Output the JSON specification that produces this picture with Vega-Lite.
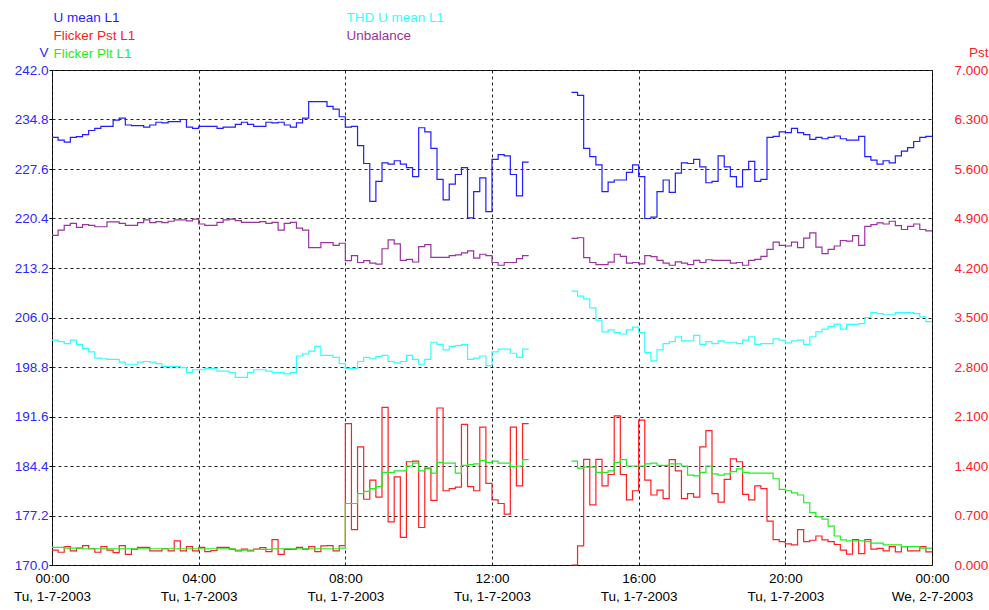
{
  "$schema": "https://vega.github.io/schema/vega-lite/v6.json",
  "width": 880,
  "height": 495,
  "autosize": {"type": "none"},
  "padding": {"left": 52, "top": 70, "right": 57, "bottom": 45},
  "background": "white",
  "config": {
    "font": "Liberation Sans",
    "view": {"stroke": "#000000", "strokeWidth": 1},
    "axis": {"gridDash": [3, 3], "gridColor": "#222222", "gridOpacity": 1, "gridWidth": 1, "domain": false, "labelFontSize": 13.5, "labelFont": "Liberation Sans", "titleFont": "Liberation Sans"}
  },
  "datasets": {
    "volt": [
      {"s":"U mean L1","g":"a","t":"2003-07-01T00:00Z","v":232.2},
      {"s":"U mean L1","g":"a","t":"2003-07-01T00:10Z","v":231.8},
      {"s":"U mean L1","g":"a","t":"2003-07-01T00:20Z","v":231.5},
      {"s":"U mean L1","g":"a","t":"2003-07-01T00:30Z","v":232.2},
      {"s":"U mean L1","g":"a","t":"2003-07-01T00:40Z","v":232.3},
      {"s":"U mean L1","g":"a","t":"2003-07-01T00:50Z","v":232.6},
      {"s":"U mean L1","g":"a","t":"2003-07-01T01:00Z","v":233.2},
      {"s":"U mean L1","g":"a","t":"2003-07-01T01:10Z","v":233.5},
      {"s":"U mean L1","g":"a","t":"2003-07-01T01:20Z","v":233.8},
      {"s":"U mean L1","g":"a","t":"2003-07-01T01:40Z","v":234.7},
      {"s":"U mean L1","g":"a","t":"2003-07-01T01:50Z","v":235.0},
      {"s":"U mean L1","g":"a","t":"2003-07-01T02:00Z","v":234.0},
      {"s":"U mean L1","g":"a","t":"2003-07-01T02:10Z","v":233.9},
      {"s":"U mean L1","g":"a","t":"2003-07-01T02:30Z","v":233.7},
      {"s":"U mean L1","g":"a","t":"2003-07-01T02:40Z","v":234.0},
      {"s":"U mean L1","g":"a","t":"2003-07-01T02:50Z","v":234.4},
      {"s":"U mean L1","g":"a","t":"2003-07-01T03:00Z","v":234.3},
      {"s":"U mean L1","g":"a","t":"2003-07-01T03:10Z","v":234.5},
      {"s":"U mean L1","g":"a","t":"2003-07-01T03:30Z","v":234.8},
      {"s":"U mean L1","g":"a","t":"2003-07-01T03:40Z","v":233.7},
      {"s":"U mean L1","g":"a","t":"2003-07-01T03:50Z","v":233.5},
      {"s":"U mean L1","g":"a","t":"2003-07-01T04:00Z","v":233.8},
      {"s":"U mean L1","g":"a","t":"2003-07-01T04:30Z","v":233.5},
      {"s":"U mean L1","g":"a","t":"2003-07-01T04:40Z","v":233.7},
      {"s":"U mean L1","g":"a","t":"2003-07-01T05:00Z","v":234.1},
      {"s":"U mean L1","g":"a","t":"2003-07-01T05:10Z","v":234.4},
      {"s":"U mean L1","g":"a","t":"2003-07-01T05:20Z","v":234.1},
      {"s":"U mean L1","g":"a","t":"2003-07-01T05:30Z","v":233.8},
      {"s":"U mean L1","g":"a","t":"2003-07-01T05:50Z","v":234.4},
      {"s":"U mean L1","g":"a","t":"2003-07-01T06:00Z","v":234.3},
      {"s":"U mean L1","g":"a","t":"2003-07-01T06:10Z","v":234.4},
      {"s":"U mean L1","g":"a","t":"2003-07-01T06:20Z","v":234.0},
      {"s":"U mean L1","g":"a","t":"2003-07-01T06:30Z","v":233.7},
      {"s":"U mean L1","g":"a","t":"2003-07-01T06:40Z","v":234.3},
      {"s":"U mean L1","g":"a","t":"2003-07-01T06:50Z","v":235.0},
      {"s":"U mean L1","g":"a","t":"2003-07-01T07:00Z","v":237.4},
      {"s":"U mean L1","g":"a","t":"2003-07-01T07:30Z","v":236.7},
      {"s":"U mean L1","g":"a","t":"2003-07-01T07:40Z","v":236.3},
      {"s":"U mean L1","g":"a","t":"2003-07-01T07:50Z","v":235.2},
      {"s":"U mean L1","g":"a","t":"2003-07-01T08:00Z","v":233.7},
      {"s":"U mean L1","g":"a","t":"2003-07-01T08:10Z","v":233.8},
      {"s":"U mean L1","g":"a","t":"2003-07-01T08:20Z","v":231.0},
      {"s":"U mean L1","g":"a","t":"2003-07-01T08:30Z","v":228.4},
      {"s":"U mean L1","g":"a","t":"2003-07-01T08:40Z","v":222.9},
      {"s":"U mean L1","g":"a","t":"2003-07-01T08:50Z","v":225.8},
      {"s":"U mean L1","g":"a","t":"2003-07-01T09:00Z","v":228.5},
      {"s":"U mean L1","g":"a","t":"2003-07-01T09:10Z","v":228.3},
      {"s":"U mean L1","g":"a","t":"2003-07-01T09:20Z","v":228.8},
      {"s":"U mean L1","g":"a","t":"2003-07-01T09:30Z","v":228.3},
      {"s":"U mean L1","g":"a","t":"2003-07-01T09:40Z","v":227.8},
      {"s":"U mean L1","g":"a","t":"2003-07-01T09:50Z","v":226.5},
      {"s":"U mean L1","g":"a","t":"2003-07-01T10:00Z","v":233.6},
      {"s":"U mean L1","g":"a","t":"2003-07-01T10:10Z","v":233.0},
      {"s":"U mean L1","g":"a","t":"2003-07-01T10:20Z","v":230.6},
      {"s":"U mean L1","g":"a","t":"2003-07-01T10:30Z","v":226.1},
      {"s":"U mean L1","g":"a","t":"2003-07-01T10:40Z","v":223.1},
      {"s":"U mean L1","g":"a","t":"2003-07-01T10:50Z","v":225.4},
      {"s":"U mean L1","g":"a","t":"2003-07-01T11:00Z","v":226.8},
      {"s":"U mean L1","g":"a","t":"2003-07-01T11:10Z","v":227.8},
      {"s":"U mean L1","g":"a","t":"2003-07-01T11:20Z","v":220.5},
      {"s":"U mean L1","g":"a","t":"2003-07-01T11:30Z","v":224.3},
      {"s":"U mean L1","g":"a","t":"2003-07-01T11:40Z","v":226.3},
      {"s":"U mean L1","g":"a","t":"2003-07-01T11:50Z","v":221.4},
      {"s":"U mean L1","g":"a","t":"2003-07-01T12:00Z","v":229.0},
      {"s":"U mean L1","g":"a","t":"2003-07-01T12:10Z","v":229.7},
      {"s":"U mean L1","g":"a","t":"2003-07-01T12:20Z","v":229.5},
      {"s":"U mean L1","g":"a","t":"2003-07-01T12:30Z","v":226.8},
      {"s":"U mean L1","g":"a","t":"2003-07-01T12:40Z","v":223.7},
      {"s":"U mean L1","g":"a","t":"2003-07-01T12:50Z","v":228.6},
      {"s":"U mean L1","g":"a","t":"2003-07-01T13:00Z","v":228.6},
      {"s":"U mean L1","g":"b","t":"2003-07-01T14:10Z","v":238.75},
      {"s":"U mean L1","g":"b","t":"2003-07-01T14:20Z","v":238.3},
      {"s":"U mean L1","g":"b","t":"2003-07-01T14:30Z","v":230.6},
      {"s":"U mean L1","g":"b","t":"2003-07-01T14:40Z","v":229.4},
      {"s":"U mean L1","g":"b","t":"2003-07-01T14:50Z","v":228.2},
      {"s":"U mean L1","g":"b","t":"2003-07-01T15:00Z","v":224.3},
      {"s":"U mean L1","g":"b","t":"2003-07-01T15:10Z","v":225.7},
      {"s":"U mean L1","g":"b","t":"2003-07-01T15:20Z","v":226.0},
      {"s":"U mean L1","g":"b","t":"2003-07-01T15:40Z","v":227.1},
      {"s":"U mean L1","g":"b","t":"2003-07-01T15:50Z","v":228.2},
      {"s":"U mean L1","g":"b","t":"2003-07-01T16:00Z","v":226.5},
      {"s":"U mean L1","g":"b","t":"2003-07-01T16:10Z","v":220.4},
      {"s":"U mean L1","g":"b","t":"2003-07-01T16:20Z","v":220.6},
      {"s":"U mean L1","g":"b","t":"2003-07-01T16:30Z","v":224.3},
      {"s":"U mean L1","g":"b","t":"2003-07-01T16:40Z","v":226.0},
      {"s":"U mean L1","g":"b","t":"2003-07-01T16:50Z","v":224.2},
      {"s":"U mean L1","g":"b","t":"2003-07-01T17:00Z","v":227.0},
      {"s":"U mean L1","g":"b","t":"2003-07-01T17:10Z","v":228.5},
      {"s":"U mean L1","g":"b","t":"2003-07-01T17:20Z","v":228.4},
      {"s":"U mean L1","g":"b","t":"2003-07-01T17:30Z","v":229.0},
      {"s":"U mean L1","g":"b","t":"2003-07-01T17:40Z","v":227.9},
      {"s":"U mean L1","g":"b","t":"2003-07-01T17:50Z","v":225.6},
      {"s":"U mean L1","g":"b","t":"2003-07-01T18:00Z","v":225.8},
      {"s":"U mean L1","g":"b","t":"2003-07-01T18:10Z","v":229.5},
      {"s":"U mean L1","g":"b","t":"2003-07-01T18:20Z","v":227.9},
      {"s":"U mean L1","g":"b","t":"2003-07-01T18:30Z","v":226.5},
      {"s":"U mean L1","g":"b","t":"2003-07-01T18:40Z","v":225.0},
      {"s":"U mean L1","g":"b","t":"2003-07-01T18:50Z","v":227.5},
      {"s":"U mean L1","g":"b","t":"2003-07-01T19:00Z","v":228.7},
      {"s":"U mean L1","g":"b","t":"2003-07-01T19:10Z","v":225.8},
      {"s":"U mean L1","g":"b","t":"2003-07-01T19:20Z","v":226.1},
      {"s":"U mean L1","g":"b","t":"2003-07-01T19:30Z","v":232.2},
      {"s":"U mean L1","g":"b","t":"2003-07-01T19:40Z","v":232.35},
      {"s":"U mean L1","g":"b","t":"2003-07-01T19:50Z","v":233.0},
      {"s":"U mean L1","g":"b","t":"2003-07-01T20:00Z","v":232.9},
      {"s":"U mean L1","g":"b","t":"2003-07-01T20:10Z","v":233.5},
      {"s":"U mean L1","g":"b","t":"2003-07-01T20:20Z","v":232.9},
      {"s":"U mean L1","g":"b","t":"2003-07-01T20:30Z","v":232.6},
      {"s":"U mean L1","g":"b","t":"2003-07-01T20:40Z","v":231.9},
      {"s":"U mean L1","g":"b","t":"2003-07-01T20:50Z","v":232.2},
      {"s":"U mean L1","g":"b","t":"2003-07-01T21:00Z","v":232.0},
      {"s":"U mean L1","g":"b","t":"2003-07-01T21:10Z","v":232.2},
      {"s":"U mean L1","g":"b","t":"2003-07-01T21:20Z","v":232.4},
      {"s":"U mean L1","g":"b","t":"2003-07-01T21:30Z","v":232.0},
      {"s":"U mean L1","g":"b","t":"2003-07-01T21:40Z","v":231.8},
      {"s":"U mean L1","g":"b","t":"2003-07-01T22:00Z","v":232.35},
      {"s":"U mean L1","g":"b","t":"2003-07-01T22:10Z","v":229.4},
      {"s":"U mean L1","g":"b","t":"2003-07-01T22:20Z","v":228.9},
      {"s":"U mean L1","g":"b","t":"2003-07-01T22:30Z","v":228.3},
      {"s":"U mean L1","g":"b","t":"2003-07-01T22:40Z","v":228.8},
      {"s":"U mean L1","g":"b","t":"2003-07-01T22:50Z","v":228.5},
      {"s":"U mean L1","g":"b","t":"2003-07-01T23:00Z","v":229.5},
      {"s":"U mean L1","g":"b","t":"2003-07-01T23:10Z","v":230.2},
      {"s":"U mean L1","g":"b","t":"2003-07-01T23:20Z","v":230.7},
      {"s":"U mean L1","g":"b","t":"2003-07-01T23:30Z","v":231.6},
      {"s":"U mean L1","g":"b","t":"2003-07-01T23:40Z","v":232.2},
      {"s":"U mean L1","g":"b","t":"2003-07-01T23:50Z","v":232.35},
      {"s":"U mean L1","g":"b","t":"2003-07-02T00:00Z","v":232.35},

      {"s":"THD U mean L1","g":"a","t":"2003-07-01T00:00Z","v":202.7},
      {"s":"THD U mean L1","g":"a","t":"2003-07-01T00:10Z","v":202.5},
      {"s":"THD U mean L1","g":"a","t":"2003-07-01T00:20Z","v":202.2},
      {"s":"THD U mean L1","g":"a","t":"2003-07-01T00:30Z","v":202.7},
      {"s":"THD U mean L1","g":"a","t":"2003-07-01T00:40Z","v":202.05},
      {"s":"THD U mean L1","g":"a","t":"2003-07-01T00:50Z","v":201.5},
      {"s":"THD U mean L1","g":"a","t":"2003-07-01T01:00Z","v":201.0},
      {"s":"THD U mean L1","g":"a","t":"2003-07-01T01:10Z","v":200.1},
      {"s":"THD U mean L1","g":"a","t":"2003-07-01T01:20Z","v":200.0},
      {"s":"THD U mean L1","g":"a","t":"2003-07-01T01:30Z","v":199.9},
      {"s":"THD U mean L1","g":"a","t":"2003-07-01T01:50Z","v":199.5},
      {"s":"THD U mean L1","g":"a","t":"2003-07-01T02:00Z","v":199.2},
      {"s":"THD U mean L1","g":"a","t":"2003-07-01T02:20Z","v":199.5},
      {"s":"THD U mean L1","g":"a","t":"2003-07-01T02:30Z","v":199.6},
      {"s":"THD U mean L1","g":"a","t":"2003-07-01T02:40Z","v":199.5},
      {"s":"THD U mean L1","g":"a","t":"2003-07-01T02:50Z","v":199.3},
      {"s":"THD U mean L1","g":"a","t":"2003-07-01T03:00Z","v":198.9},
      {"s":"THD U mean L1","g":"a","t":"2003-07-01T03:30Z","v":198.7},
      {"s":"THD U mean L1","g":"a","t":"2003-07-01T03:40Z","v":198.0},
      {"s":"THD U mean L1","g":"a","t":"2003-07-01T03:50Z","v":198.4},
      {"s":"THD U mean L1","g":"a","t":"2003-07-01T04:10Z","v":198.6},
      {"s":"THD U mean L1","g":"a","t":"2003-07-01T04:30Z","v":198.2},
      {"s":"THD U mean L1","g":"a","t":"2003-07-01T04:50Z","v":198.0},
      {"s":"THD U mean L1","g":"a","t":"2003-07-01T05:00Z","v":197.3},
      {"s":"THD U mean L1","g":"a","t":"2003-07-01T05:20Z","v":198.0},
      {"s":"THD U mean L1","g":"a","t":"2003-07-01T05:30Z","v":198.4},
      {"s":"THD U mean L1","g":"a","t":"2003-07-01T05:50Z","v":198.2},
      {"s":"THD U mean L1","g":"a","t":"2003-07-01T06:00Z","v":198.0},
      {"s":"THD U mean L1","g":"a","t":"2003-07-01T06:20Z","v":197.8},
      {"s":"THD U mean L1","g":"a","t":"2003-07-01T06:30Z","v":198.0},
      {"s":"THD U mean L1","g":"a","t":"2003-07-01T06:40Z","v":200.4},
      {"s":"THD U mean L1","g":"a","t":"2003-07-01T06:50Z","v":200.7},
      {"s":"THD U mean L1","g":"a","t":"2003-07-01T07:00Z","v":201.1},
      {"s":"THD U mean L1","g":"a","t":"2003-07-01T07:10Z","v":201.8},
      {"s":"THD U mean L1","g":"a","t":"2003-07-01T07:20Z","v":200.5},
      {"s":"THD U mean L1","g":"a","t":"2003-07-01T07:40Z","v":200.2},
      {"s":"THD U mean L1","g":"a","t":"2003-07-01T07:50Z","v":199.3},
      {"s":"THD U mean L1","g":"a","t":"2003-07-01T08:00Z","v":198.6},
      {"s":"THD U mean L1","g":"a","t":"2003-07-01T08:20Z","v":199.6},
      {"s":"THD U mean L1","g":"a","t":"2003-07-01T08:30Z","v":200.2},
      {"s":"THD U mean L1","g":"a","t":"2003-07-01T08:40Z","v":200.0},
      {"s":"THD U mean L1","g":"a","t":"2003-07-01T08:50Z","v":200.3},
      {"s":"THD U mean L1","g":"a","t":"2003-07-01T09:00Z","v":200.5},
      {"s":"THD U mean L1","g":"a","t":"2003-07-01T09:10Z","v":199.6},
      {"s":"THD U mean L1","g":"a","t":"2003-07-01T09:20Z","v":199.4},
      {"s":"THD U mean L1","g":"a","t":"2003-07-01T09:30Z","v":199.6},
      {"s":"THD U mean L1","g":"a","t":"2003-07-01T09:40Z","v":200.5},
      {"s":"THD U mean L1","g":"a","t":"2003-07-01T09:50Z","v":199.9},
      {"s":"THD U mean L1","g":"a","t":"2003-07-01T10:00Z","v":199.2},
      {"s":"THD U mean L1","g":"a","t":"2003-07-01T10:10Z","v":199.9},
      {"s":"THD U mean L1","g":"a","t":"2003-07-01T10:20Z","v":202.4},
      {"s":"THD U mean L1","g":"a","t":"2003-07-01T10:30Z","v":202.1},
      {"s":"THD U mean L1","g":"a","t":"2003-07-01T10:40Z","v":201.3},
      {"s":"THD U mean L1","g":"a","t":"2003-07-01T10:50Z","v":201.8},
      {"s":"THD U mean L1","g":"a","t":"2003-07-01T11:00Z","v":201.9},
      {"s":"THD U mean L1","g":"a","t":"2003-07-01T11:10Z","v":202.05},
      {"s":"THD U mean L1","g":"a","t":"2003-07-01T11:20Z","v":199.9},
      {"s":"THD U mean L1","g":"a","t":"2003-07-01T11:30Z","v":200.1},
      {"s":"THD U mean L1","g":"a","t":"2003-07-01T11:40Z","v":200.4},
      {"s":"THD U mean L1","g":"a","t":"2003-07-01T11:50Z","v":199.0},
      {"s":"THD U mean L1","g":"a","t":"2003-07-01T12:00Z","v":201.0},
      {"s":"THD U mean L1","g":"a","t":"2003-07-01T12:10Z","v":201.4},
      {"s":"THD U mean L1","g":"a","t":"2003-07-01T12:30Z","v":200.8},
      {"s":"THD U mean L1","g":"a","t":"2003-07-01T12:40Z","v":200.2},
      {"s":"THD U mean L1","g":"a","t":"2003-07-01T12:50Z","v":201.4},
      {"s":"THD U mean L1","g":"a","t":"2003-07-01T13:00Z","v":201.4},
      {"s":"THD U mean L1","g":"b","t":"2003-07-01T14:10Z","v":209.85},
      {"s":"THD U mean L1","g":"b","t":"2003-07-01T14:20Z","v":209.1},
      {"s":"THD U mean L1","g":"b","t":"2003-07-01T14:30Z","v":208.7},
      {"s":"THD U mean L1","g":"b","t":"2003-07-01T14:40Z","v":207.4},
      {"s":"THD U mean L1","g":"b","t":"2003-07-01T14:50Z","v":205.6},
      {"s":"THD U mean L1","g":"b","t":"2003-07-01T15:00Z","v":203.9},
      {"s":"THD U mean L1","g":"b","t":"2003-07-01T15:10Z","v":204.2},
      {"s":"THD U mean L1","g":"b","t":"2003-07-01T15:20Z","v":203.8},
      {"s":"THD U mean L1","g":"b","t":"2003-07-01T15:30Z","v":203.6},
      {"s":"THD U mean L1","g":"b","t":"2003-07-01T15:40Z","v":204.2},
      {"s":"THD U mean L1","g":"b","t":"2003-07-01T15:50Z","v":204.6},
      {"s":"THD U mean L1","g":"b","t":"2003-07-01T16:00Z","v":203.8},
      {"s":"THD U mean L1","g":"b","t":"2003-07-01T16:10Z","v":200.9},
      {"s":"THD U mean L1","g":"b","t":"2003-07-01T16:20Z","v":199.7},
      {"s":"THD U mean L1","g":"b","t":"2003-07-01T16:30Z","v":201.3},
      {"s":"THD U mean L1","g":"b","t":"2003-07-01T16:40Z","v":202.2},
      {"s":"THD U mean L1","g":"b","t":"2003-07-01T16:50Z","v":202.5},
      {"s":"THD U mean L1","g":"b","t":"2003-07-01T17:00Z","v":203.2},
      {"s":"THD U mean L1","g":"b","t":"2003-07-01T17:10Z","v":202.6},
      {"s":"THD U mean L1","g":"b","t":"2003-07-01T17:30Z","v":203.4},
      {"s":"THD U mean L1","g":"b","t":"2003-07-01T17:40Z","v":202.1},
      {"s":"THD U mean L1","g":"b","t":"2003-07-01T17:50Z","v":202.5},
      {"s":"THD U mean L1","g":"b","t":"2003-07-01T18:00Z","v":202.2},
      {"s":"THD U mean L1","g":"b","t":"2003-07-01T18:10Z","v":202.6},
      {"s":"THD U mean L1","g":"b","t":"2003-07-01T18:20Z","v":202.4},
      {"s":"THD U mean L1","g":"b","t":"2003-07-01T18:40Z","v":202.2},
      {"s":"THD U mean L1","g":"b","t":"2003-07-01T18:50Z","v":202.7},
      {"s":"THD U mean L1","g":"b","t":"2003-07-01T19:00Z","v":203.2},
      {"s":"THD U mean L1","g":"b","t":"2003-07-01T19:10Z","v":202.1},
      {"s":"THD U mean L1","g":"b","t":"2003-07-01T19:20Z","v":202.2},
      {"s":"THD U mean L1","g":"b","t":"2003-07-01T19:40Z","v":202.9},
      {"s":"THD U mean L1","g":"b","t":"2003-07-01T19:50Z","v":202.7},
      {"s":"THD U mean L1","g":"b","t":"2003-07-01T20:00Z","v":202.3},
      {"s":"THD U mean L1","g":"b","t":"2003-07-01T20:10Z","v":202.6},
      {"s":"THD U mean L1","g":"b","t":"2003-07-01T20:20Z","v":202.7},
      {"s":"THD U mean L1","g":"b","t":"2003-07-01T20:30Z","v":202.1},
      {"s":"THD U mean L1","g":"b","t":"2003-07-01T20:40Z","v":203.2},
      {"s":"THD U mean L1","g":"b","t":"2003-07-01T20:50Z","v":203.9},
      {"s":"THD U mean L1","g":"b","t":"2003-07-01T21:00Z","v":204.3},
      {"s":"THD U mean L1","g":"b","t":"2003-07-01T21:10Z","v":204.7},
      {"s":"THD U mean L1","g":"b","t":"2003-07-01T21:20Z","v":205.05},
      {"s":"THD U mean L1","g":"b","t":"2003-07-01T21:30Z","v":204.3},
      {"s":"THD U mean L1","g":"b","t":"2003-07-01T21:40Z","v":205.0},
      {"s":"THD U mean L1","g":"b","t":"2003-07-01T22:00Z","v":205.1},
      {"s":"THD U mean L1","g":"b","t":"2003-07-01T22:10Z","v":206.0},
      {"s":"THD U mean L1","g":"b","t":"2003-07-01T22:20Z","v":206.7},
      {"s":"THD U mean L1","g":"b","t":"2003-07-01T22:30Z","v":206.55},
      {"s":"THD U mean L1","g":"b","t":"2003-07-01T22:40Z","v":206.4},
      {"s":"THD U mean L1","g":"b","t":"2003-07-01T23:00Z","v":206.7},
      {"s":"THD U mean L1","g":"b","t":"2003-07-01T23:30Z","v":206.55},
      {"s":"THD U mean L1","g":"b","t":"2003-07-01T23:40Z","v":206.1},
      {"s":"THD U mean L1","g":"b","t":"2003-07-01T23:50Z","v":205.4},
      {"s":"THD U mean L1","g":"b","t":"2003-07-02T00:00Z","v":205.4},

      {"s":"Unbalance","g":"a","t":"2003-07-01T00:00Z","v":217.95},
      {"s":"Unbalance","g":"a","t":"2003-07-01T00:10Z","v":218.7},
      {"s":"Unbalance","g":"a","t":"2003-07-01T00:20Z","v":219.4},
      {"s":"Unbalance","g":"a","t":"2003-07-01T00:30Z","v":219.7},
      {"s":"Unbalance","g":"a","t":"2003-07-01T00:40Z","v":219.1},
      {"s":"Unbalance","g":"a","t":"2003-07-01T00:50Z","v":219.5},
      {"s":"Unbalance","g":"a","t":"2003-07-01T01:00Z","v":219.4},
      {"s":"Unbalance","g":"a","t":"2003-07-01T01:10Z","v":219.2},
      {"s":"Unbalance","g":"a","t":"2003-07-01T01:30Z","v":219.9},
      {"s":"Unbalance","g":"a","t":"2003-07-01T01:50Z","v":219.7},
      {"s":"Unbalance","g":"a","t":"2003-07-01T02:00Z","v":219.4},
      {"s":"Unbalance","g":"a","t":"2003-07-01T02:20Z","v":219.8},
      {"s":"Unbalance","g":"a","t":"2003-07-01T02:30Z","v":220.2},
      {"s":"Unbalance","g":"a","t":"2003-07-01T02:40Z","v":219.8},
      {"s":"Unbalance","g":"a","t":"2003-07-01T02:50Z","v":219.95},
      {"s":"Unbalance","g":"a","t":"2003-07-01T03:00Z","v":219.8},
      {"s":"Unbalance","g":"a","t":"2003-07-01T03:10Z","v":220.0},
      {"s":"Unbalance","g":"a","t":"2003-07-01T03:20Z","v":220.2},
      {"s":"Unbalance","g":"a","t":"2003-07-01T03:40Z","v":220.05},
      {"s":"Unbalance","g":"a","t":"2003-07-01T03:50Z","v":220.3},
      {"s":"Unbalance","g":"a","t":"2003-07-01T04:00Z","v":219.6},
      {"s":"Unbalance","g":"a","t":"2003-07-01T04:10Z","v":219.4},
      {"s":"Unbalance","g":"a","t":"2003-07-01T04:30Z","v":219.85},
      {"s":"Unbalance","g":"a","t":"2003-07-01T04:40Z","v":220.2},
      {"s":"Unbalance","g":"a","t":"2003-07-01T04:50Z","v":220.3},
      {"s":"Unbalance","g":"a","t":"2003-07-01T05:00Z","v":220.1},
      {"s":"Unbalance","g":"a","t":"2003-07-01T05:10Z","v":219.85},
      {"s":"Unbalance","g":"a","t":"2003-07-01T05:40Z","v":219.95},
      {"s":"Unbalance","g":"a","t":"2003-07-01T05:50Z","v":219.7},
      {"s":"Unbalance","g":"a","t":"2003-07-01T06:00Z","v":219.85},
      {"s":"Unbalance","g":"a","t":"2003-07-01T06:10Z","v":218.7},
      {"s":"Unbalance","g":"a","t":"2003-07-01T06:20Z","v":219.7},
      {"s":"Unbalance","g":"a","t":"2003-07-01T06:30Z","v":219.85},
      {"s":"Unbalance","g":"a","t":"2003-07-01T06:40Z","v":219.0},
      {"s":"Unbalance","g":"a","t":"2003-07-01T06:50Z","v":218.7},
      {"s":"Unbalance","g":"a","t":"2003-07-01T07:00Z","v":216.15},
      {"s":"Unbalance","g":"a","t":"2003-07-01T07:20Z","v":216.9},
      {"s":"Unbalance","g":"a","t":"2003-07-01T07:40Z","v":216.5},
      {"s":"Unbalance","g":"a","t":"2003-07-01T07:50Z","v":216.8},
      {"s":"Unbalance","g":"a","t":"2003-07-01T08:00Z","v":214.27},
      {"s":"Unbalance","g":"a","t":"2003-07-01T08:10Z","v":215.0},
      {"s":"Unbalance","g":"a","t":"2003-07-01T08:20Z","v":214.0},
      {"s":"Unbalance","g":"a","t":"2003-07-01T08:30Z","v":214.27},
      {"s":"Unbalance","g":"a","t":"2003-07-01T08:40Z","v":213.9},
      {"s":"Unbalance","g":"a","t":"2003-07-01T08:50Z","v":213.75},
      {"s":"Unbalance","g":"a","t":"2003-07-01T09:00Z","v":216.0},
      {"s":"Unbalance","g":"a","t":"2003-07-01T09:10Z","v":217.3},
      {"s":"Unbalance","g":"a","t":"2003-07-01T09:20Z","v":216.7},
      {"s":"Unbalance","g":"a","t":"2003-07-01T09:30Z","v":214.3},
      {"s":"Unbalance","g":"a","t":"2003-07-01T09:40Z","v":214.45},
      {"s":"Unbalance","g":"a","t":"2003-07-01T09:50Z","v":214.07},
      {"s":"Unbalance","g":"a","t":"2003-07-01T10:00Z","v":216.3},
      {"s":"Unbalance","g":"a","t":"2003-07-01T10:10Z","v":216.6},
      {"s":"Unbalance","g":"a","t":"2003-07-01T10:20Z","v":214.75},
      {"s":"Unbalance","g":"a","t":"2003-07-01T10:50Z","v":215.0},
      {"s":"Unbalance","g":"a","t":"2003-07-01T11:00Z","v":215.1},
      {"s":"Unbalance","g":"a","t":"2003-07-01T11:10Z","v":215.4},
      {"s":"Unbalance","g":"a","t":"2003-07-01T11:20Z","v":215.7},
      {"s":"Unbalance","g":"a","t":"2003-07-01T11:30Z","v":214.65},
      {"s":"Unbalance","g":"a","t":"2003-07-01T11:40Z","v":215.2},
      {"s":"Unbalance","g":"a","t":"2003-07-01T11:50Z","v":215.0},
      {"s":"Unbalance","g":"a","t":"2003-07-01T12:00Z","v":214.0},
      {"s":"Unbalance","g":"a","t":"2003-07-01T12:10Z","v":213.6},
      {"s":"Unbalance","g":"a","t":"2003-07-01T12:20Z","v":214.0},
      {"s":"Unbalance","g":"a","t":"2003-07-01T12:40Z","v":214.55},
      {"s":"Unbalance","g":"a","t":"2003-07-01T12:50Z","v":215.0},
      {"s":"Unbalance","g":"a","t":"2003-07-01T13:00Z","v":215.0},
      {"s":"Unbalance","g":"b","t":"2003-07-01T14:10Z","v":217.5},
      {"s":"Unbalance","g":"b","t":"2003-07-01T14:20Z","v":217.6},
      {"s":"Unbalance","g":"b","t":"2003-07-01T14:30Z","v":214.7},
      {"s":"Unbalance","g":"b","t":"2003-07-01T14:40Z","v":214.0},
      {"s":"Unbalance","g":"b","t":"2003-07-01T14:50Z","v":213.7},
      {"s":"Unbalance","g":"b","t":"2003-07-01T15:10Z","v":214.05},
      {"s":"Unbalance","g":"b","t":"2003-07-01T15:20Z","v":215.2},
      {"s":"Unbalance","g":"b","t":"2003-07-01T15:30Z","v":214.9},
      {"s":"Unbalance","g":"b","t":"2003-07-01T15:40Z","v":213.9},
      {"s":"Unbalance","g":"b","t":"2003-07-01T15:50Z","v":214.0},
      {"s":"Unbalance","g":"b","t":"2003-07-01T16:00Z","v":213.8},
      {"s":"Unbalance","g":"b","t":"2003-07-01T16:10Z","v":215.0},
      {"s":"Unbalance","g":"b","t":"2003-07-01T16:20Z","v":214.85},
      {"s":"Unbalance","g":"b","t":"2003-07-01T16:30Z","v":214.3},
      {"s":"Unbalance","g":"b","t":"2003-07-01T16:40Z","v":213.9},
      {"s":"Unbalance","g":"b","t":"2003-07-01T16:50Z","v":213.6},
      {"s":"Unbalance","g":"b","t":"2003-07-01T17:00Z","v":214.1},
      {"s":"Unbalance","g":"b","t":"2003-07-01T17:10Z","v":213.9},
      {"s":"Unbalance","g":"b","t":"2003-07-01T17:20Z","v":213.7},
      {"s":"Unbalance","g":"b","t":"2003-07-01T17:30Z","v":214.3},
      {"s":"Unbalance","g":"b","t":"2003-07-01T17:40Z","v":214.0},
      {"s":"Unbalance","g":"b","t":"2003-07-01T17:50Z","v":214.4},
      {"s":"Unbalance","g":"b","t":"2003-07-01T18:00Z","v":214.3},
      {"s":"Unbalance","g":"b","t":"2003-07-01T18:30Z","v":213.9},
      {"s":"Unbalance","g":"b","t":"2003-07-01T18:40Z","v":214.0},
      {"s":"Unbalance","g":"b","t":"2003-07-01T18:50Z","v":213.6},
      {"s":"Unbalance","g":"b","t":"2003-07-01T19:00Z","v":214.3},
      {"s":"Unbalance","g":"b","t":"2003-07-01T19:10Z","v":214.45},
      {"s":"Unbalance","g":"b","t":"2003-07-01T19:20Z","v":214.9},
      {"s":"Unbalance","g":"b","t":"2003-07-01T19:30Z","v":215.9},
      {"s":"Unbalance","g":"b","t":"2003-07-01T19:40Z","v":216.95},
      {"s":"Unbalance","g":"b","t":"2003-07-01T19:50Z","v":216.5},
      {"s":"Unbalance","g":"b","t":"2003-07-01T20:00Z","v":216.4},
      {"s":"Unbalance","g":"b","t":"2003-07-01T20:10Z","v":216.95},
      {"s":"Unbalance","g":"b","t":"2003-07-01T20:20Z","v":216.15},
      {"s":"Unbalance","g":"b","t":"2003-07-01T20:30Z","v":217.55},
      {"s":"Unbalance","g":"b","t":"2003-07-01T20:40Z","v":218.3},
      {"s":"Unbalance","g":"b","t":"2003-07-01T20:50Z","v":216.25},
      {"s":"Unbalance","g":"b","t":"2003-07-01T21:00Z","v":215.3},
      {"s":"Unbalance","g":"b","t":"2003-07-01T21:10Z","v":215.9},
      {"s":"Unbalance","g":"b","t":"2003-07-01T21:20Z","v":216.4},
      {"s":"Unbalance","g":"b","t":"2003-07-01T21:30Z","v":217.2},
      {"s":"Unbalance","g":"b","t":"2003-07-01T21:40Z","v":217.1},
      {"s":"Unbalance","g":"b","t":"2003-07-01T21:50Z","v":217.9},
      {"s":"Unbalance","g":"b","t":"2003-07-01T22:00Z","v":216.5},
      {"s":"Unbalance","g":"b","t":"2003-07-01T22:10Z","v":219.26},
      {"s":"Unbalance","g":"b","t":"2003-07-01T22:20Z","v":219.5},
      {"s":"Unbalance","g":"b","t":"2003-07-01T22:30Z","v":219.75},
      {"s":"Unbalance","g":"b","t":"2003-07-01T22:40Z","v":219.6},
      {"s":"Unbalance","g":"b","t":"2003-07-01T22:50Z","v":220.0},
      {"s":"Unbalance","g":"b","t":"2003-07-01T23:00Z","v":219.35},
      {"s":"Unbalance","g":"b","t":"2003-07-01T23:10Z","v":218.8},
      {"s":"Unbalance","g":"b","t":"2003-07-01T23:20Z","v":219.26},
      {"s":"Unbalance","g":"b","t":"2003-07-01T23:30Z","v":219.6},
      {"s":"Unbalance","g":"b","t":"2003-07-01T23:40Z","v":218.8},
      {"s":"Unbalance","g":"b","t":"2003-07-01T23:50Z","v":218.6},
      {"s":"Unbalance","g":"b","t":"2003-07-02T00:00Z","v":218.6}
    ],
    "flicker": [
      {"s":"Flicker Pst L1","g":"a","t":"2003-07-01T00:00Z","v":0.21},
      {"s":"Flicker Pst L1","g":"a","t":"2003-07-01T00:10Z","v":0.18},
      {"s":"Flicker Pst L1","g":"a","t":"2003-07-01T00:20Z","v":0.26},
      {"s":"Flicker Pst L1","g":"a","t":"2003-07-01T00:30Z","v":0.20},
      {"s":"Flicker Pst L1","g":"a","t":"2003-07-01T00:40Z","v":0.24},
      {"s":"Flicker Pst L1","g":"a","t":"2003-07-01T00:50Z","v":0.275},
      {"s":"Flicker Pst L1","g":"a","t":"2003-07-01T01:00Z","v":0.23},
      {"s":"Flicker Pst L1","g":"a","t":"2003-07-01T01:10Z","v":0.18},
      {"s":"Flicker Pst L1","g":"a","t":"2003-07-01T01:20Z","v":0.26},
      {"s":"Flicker Pst L1","g":"a","t":"2003-07-01T01:30Z","v":0.21},
      {"s":"Flicker Pst L1","g":"a","t":"2003-07-01T01:40Z","v":0.175},
      {"s":"Flicker Pst L1","g":"a","t":"2003-07-01T01:50Z","v":0.275},
      {"s":"Flicker Pst L1","g":"a","t":"2003-07-01T02:00Z","v":0.15},
      {"s":"Flicker Pst L1","g":"a","t":"2003-07-01T02:10Z","v":0.225},
      {"s":"Flicker Pst L1","g":"a","t":"2003-07-01T02:20Z","v":0.25},
      {"s":"Flicker Pst L1","g":"a","t":"2003-07-01T02:40Z","v":0.20},
      {"s":"Flicker Pst L1","g":"a","t":"2003-07-01T03:00Z","v":0.23},
      {"s":"Flicker Pst L1","g":"a","t":"2003-07-01T03:10Z","v":0.20},
      {"s":"Flicker Pst L1","g":"a","t":"2003-07-01T03:20Z","v":0.34},
      {"s":"Flicker Pst L1","g":"a","t":"2003-07-01T03:30Z","v":0.20},
      {"s":"Flicker Pst L1","g":"a","t":"2003-07-01T03:40Z","v":0.26},
      {"s":"Flicker Pst L1","g":"a","t":"2003-07-01T03:50Z","v":0.20},
      {"s":"Flicker Pst L1","g":"a","t":"2003-07-01T04:00Z","v":0.25},
      {"s":"Flicker Pst L1","g":"a","t":"2003-07-01T04:10Z","v":0.19},
      {"s":"Flicker Pst L1","g":"a","t":"2003-07-01T04:20Z","v":0.205},
      {"s":"Flicker Pst L1","g":"a","t":"2003-07-01T04:30Z","v":0.25},
      {"s":"Flicker Pst L1","g":"a","t":"2003-07-01T04:50Z","v":0.225},
      {"s":"Flicker Pst L1","g":"a","t":"2003-07-01T05:00Z","v":0.20},
      {"s":"Flicker Pst L1","g":"a","t":"2003-07-01T05:10Z","v":0.225},
      {"s":"Flicker Pst L1","g":"a","t":"2003-07-01T05:20Z","v":0.20},
      {"s":"Flicker Pst L1","g":"a","t":"2003-07-01T05:30Z","v":0.225},
      {"s":"Flicker Pst L1","g":"a","t":"2003-07-01T05:40Z","v":0.245},
      {"s":"Flicker Pst L1","g":"a","t":"2003-07-01T05:50Z","v":0.19},
      {"s":"Flicker Pst L1","g":"a","t":"2003-07-01T06:00Z","v":0.36},
      {"s":"Flicker Pst L1","g":"a","t":"2003-07-01T06:10Z","v":0.15},
      {"s":"Flicker Pst L1","g":"a","t":"2003-07-01T06:20Z","v":0.22},
      {"s":"Flicker Pst L1","g":"a","t":"2003-07-01T06:30Z","v":0.225},
      {"s":"Flicker Pst L1","g":"a","t":"2003-07-01T06:40Z","v":0.25},
      {"s":"Flicker Pst L1","g":"a","t":"2003-07-01T06:50Z","v":0.225},
      {"s":"Flicker Pst L1","g":"a","t":"2003-07-01T07:00Z","v":0.26},
      {"s":"Flicker Pst L1","g":"a","t":"2003-07-01T07:10Z","v":0.19},
      {"s":"Flicker Pst L1","g":"a","t":"2003-07-01T07:20Z","v":0.27},
      {"s":"Flicker Pst L1","g":"a","t":"2003-07-01T07:30Z","v":0.275},
      {"s":"Flicker Pst L1","g":"a","t":"2003-07-01T07:40Z","v":0.20},
      {"s":"Flicker Pst L1","g":"a","t":"2003-07-01T07:50Z","v":0.275},
      {"s":"Flicker Pst L1","g":"a","t":"2003-07-01T08:00Z","v":2.0},
      {"s":"Flicker Pst L1","g":"a","t":"2003-07-01T08:10Z","v":0.50},
      {"s":"Flicker Pst L1","g":"a","t":"2003-07-01T08:20Z","v":1.67},
      {"s":"Flicker Pst L1","g":"a","t":"2003-07-01T08:30Z","v":0.93},
      {"s":"Flicker Pst L1","g":"a","t":"2003-07-01T08:40Z","v":1.20},
      {"s":"Flicker Pst L1","g":"a","t":"2003-07-01T08:50Z","v":0.96},
      {"s":"Flicker Pst L1","g":"a","t":"2003-07-01T09:00Z","v":2.23},
      {"s":"Flicker Pst L1","g":"a","t":"2003-07-01T09:10Z","v":0.61},
      {"s":"Flicker Pst L1","g":"a","t":"2003-07-01T09:20Z","v":1.245},
      {"s":"Flicker Pst L1","g":"a","t":"2003-07-01T09:30Z","v":0.39},
      {"s":"Flicker Pst L1","g":"a","t":"2003-07-01T09:40Z","v":1.46},
      {"s":"Flicker Pst L1","g":"a","t":"2003-07-01T09:50Z","v":1.47},
      {"s":"Flicker Pst L1","g":"a","t":"2003-07-01T10:00Z","v":0.53},
      {"s":"Flicker Pst L1","g":"a","t":"2003-07-01T10:10Z","v":1.37},
      {"s":"Flicker Pst L1","g":"a","t":"2003-07-01T10:20Z","v":0.915},
      {"s":"Flicker Pst L1","g":"a","t":"2003-07-01T10:30Z","v":2.22},
      {"s":"Flicker Pst L1","g":"a","t":"2003-07-01T10:40Z","v":1.05},
      {"s":"Flicker Pst L1","g":"a","t":"2003-07-01T10:50Z","v":1.08},
      {"s":"Flicker Pst L1","g":"a","t":"2003-07-01T11:00Z","v":1.10},
      {"s":"Flicker Pst L1","g":"a","t":"2003-07-01T11:10Z","v":1.99},
      {"s":"Flicker Pst L1","g":"a","t":"2003-07-01T11:20Z","v":1.107},
      {"s":"Flicker Pst L1","g":"a","t":"2003-07-01T11:30Z","v":1.05},
      {"s":"Flicker Pst L1","g":"a","t":"2003-07-01T11:40Z","v":1.95},
      {"s":"Flicker Pst L1","g":"a","t":"2003-07-01T11:50Z","v":1.155},
      {"s":"Flicker Pst L1","g":"a","t":"2003-07-01T12:00Z","v":0.92},
      {"s":"Flicker Pst L1","g":"a","t":"2003-07-01T12:10Z","v":0.87},
      {"s":"Flicker Pst L1","g":"a","t":"2003-07-01T12:20Z","v":0.72},
      {"s":"Flicker Pst L1","g":"a","t":"2003-07-01T12:30Z","v":1.95},
      {"s":"Flicker Pst L1","g":"a","t":"2003-07-01T12:40Z","v":1.12},
      {"s":"Flicker Pst L1","g":"a","t":"2003-07-01T12:50Z","v":2.0},
      {"s":"Flicker Pst L1","g":"a","t":"2003-07-01T13:00Z","v":2.0},
      {"s":"Flicker Pst L1","g":"b","t":"2003-07-01T14:10Z","v":0.0},
      {"s":"Flicker Pst L1","g":"b","t":"2003-07-01T14:20Z","v":0.27},
      {"s":"Flicker Pst L1","g":"b","t":"2003-07-01T14:30Z","v":1.495},
      {"s":"Flicker Pst L1","g":"b","t":"2003-07-01T14:40Z","v":0.85},
      {"s":"Flicker Pst L1","g":"b","t":"2003-07-01T14:50Z","v":1.495},
      {"s":"Flicker Pst L1","g":"b","t":"2003-07-01T15:00Z","v":1.12},
      {"s":"Flicker Pst L1","g":"b","t":"2003-07-01T15:10Z","v":1.28},
      {"s":"Flicker Pst L1","g":"b","t":"2003-07-01T15:20Z","v":2.11},
      {"s":"Flicker Pst L1","g":"b","t":"2003-07-01T15:30Z","v":1.28},
      {"s":"Flicker Pst L1","g":"b","t":"2003-07-01T15:40Z","v":0.92},
      {"s":"Flicker Pst L1","g":"b","t":"2003-07-01T15:50Z","v":1.05},
      {"s":"Flicker Pst L1","g":"b","t":"2003-07-01T16:00Z","v":2.05},
      {"s":"Flicker Pst L1","g":"b","t":"2003-07-01T16:10Z","v":1.20},
      {"s":"Flicker Pst L1","g":"b","t":"2003-07-01T16:20Z","v":0.99},
      {"s":"Flicker Pst L1","g":"b","t":"2003-07-01T16:30Z","v":1.06},
      {"s":"Flicker Pst L1","g":"b","t":"2003-07-01T16:40Z","v":0.94},
      {"s":"Flicker Pst L1","g":"b","t":"2003-07-01T16:50Z","v":1.49},
      {"s":"Flicker Pst L1","g":"b","t":"2003-07-01T17:00Z","v":1.33},
      {"s":"Flicker Pst L1","g":"b","t":"2003-07-01T17:10Z","v":0.94},
      {"s":"Flicker Pst L1","g":"b","t":"2003-07-01T17:20Z","v":1.01},
      {"s":"Flicker Pst L1","g":"b","t":"2003-07-01T17:30Z","v":0.96},
      {"s":"Flicker Pst L1","g":"b","t":"2003-07-01T17:40Z","v":1.67},
      {"s":"Flicker Pst L1","g":"b","t":"2003-07-01T17:50Z","v":1.90},
      {"s":"Flicker Pst L1","g":"b","t":"2003-07-01T18:00Z","v":1.01},
      {"s":"Flicker Pst L1","g":"b","t":"2003-07-01T18:10Z","v":0.89},
      {"s":"Flicker Pst L1","g":"b","t":"2003-07-01T18:20Z","v":1.21},
      {"s":"Flicker Pst L1","g":"b","t":"2003-07-01T18:30Z","v":1.50},
      {"s":"Flicker Pst L1","g":"b","t":"2003-07-01T18:40Z","v":1.46},
      {"s":"Flicker Pst L1","g":"b","t":"2003-07-01T18:50Z","v":1.00},
      {"s":"Flicker Pst L1","g":"b","t":"2003-07-01T19:00Z","v":0.92},
      {"s":"Flicker Pst L1","g":"b","t":"2003-07-01T19:10Z","v":1.12},
      {"s":"Flicker Pst L1","g":"b","t":"2003-07-01T19:20Z","v":1.08},
      {"s":"Flicker Pst L1","g":"b","t":"2003-07-01T19:30Z","v":0.62},
      {"s":"Flicker Pst L1","g":"b","t":"2003-07-01T19:40Z","v":0.36},
      {"s":"Flicker Pst L1","g":"b","t":"2003-07-01T19:50Z","v":0.33},
      {"s":"Flicker Pst L1","g":"b","t":"2003-07-01T20:00Z","v":0.30},
      {"s":"Flicker Pst L1","g":"b","t":"2003-07-01T20:10Z","v":0.285},
      {"s":"Flicker Pst L1","g":"b","t":"2003-07-01T20:20Z","v":0.50},
      {"s":"Flicker Pst L1","g":"b","t":"2003-07-01T20:30Z","v":0.33},
      {"s":"Flicker Pst L1","g":"b","t":"2003-07-01T20:40Z","v":0.35},
      {"s":"Flicker Pst L1","g":"b","t":"2003-07-01T20:50Z","v":0.41},
      {"s":"Flicker Pst L1","g":"b","t":"2003-07-01T21:00Z","v":0.355},
      {"s":"Flicker Pst L1","g":"b","t":"2003-07-01T21:10Z","v":0.33},
      {"s":"Flicker Pst L1","g":"b","t":"2003-07-01T21:20Z","v":0.29},
      {"s":"Flicker Pst L1","g":"b","t":"2003-07-01T21:30Z","v":0.21},
      {"s":"Flicker Pst L1","g":"b","t":"2003-07-01T21:40Z","v":0.155},
      {"s":"Flicker Pst L1","g":"b","t":"2003-07-01T21:50Z","v":0.36},
      {"s":"Flicker Pst L1","g":"b","t":"2003-07-01T22:00Z","v":0.16},
      {"s":"Flicker Pst L1","g":"b","t":"2003-07-01T22:10Z","v":0.36},
      {"s":"Flicker Pst L1","g":"b","t":"2003-07-01T22:20Z","v":0.225},
      {"s":"Flicker Pst L1","g":"b","t":"2003-07-01T22:30Z","v":0.235},
      {"s":"Flicker Pst L1","g":"b","t":"2003-07-01T22:40Z","v":0.20},
      {"s":"Flicker Pst L1","g":"b","t":"2003-07-01T22:50Z","v":0.26},
      {"s":"Flicker Pst L1","g":"b","t":"2003-07-01T23:00Z","v":0.185},
      {"s":"Flicker Pst L1","g":"b","t":"2003-07-01T23:10Z","v":0.26},
      {"s":"Flicker Pst L1","g":"b","t":"2003-07-01T23:20Z","v":0.20},
      {"s":"Flicker Pst L1","g":"b","t":"2003-07-01T23:40Z","v":0.26},
      {"s":"Flicker Pst L1","g":"b","t":"2003-07-01T23:50Z","v":0.185},
      {"s":"Flicker Pst L1","g":"b","t":"2003-07-02T00:00Z","v":0.185},

      {"s":"Flicker Plt L1","g":"a","t":"2003-07-01T00:00Z","v":0.25},
      {"s":"Flicker Plt L1","g":"a","t":"2003-07-01T00:20Z","v":0.24},
      {"s":"Flicker Plt L1","g":"a","t":"2003-07-01T00:50Z","v":0.23},
      {"s":"Flicker Plt L1","g":"a","t":"2003-07-01T05:00Z","v":0.21},
      {"s":"Flicker Plt L1","g":"a","t":"2003-07-01T05:30Z","v":0.22},
      {"s":"Flicker Plt L1","g":"a","t":"2003-07-01T06:00Z","v":0.23},
      {"s":"Flicker Plt L1","g":"a","t":"2003-07-01T07:50Z","v":0.24},
      {"s":"Flicker Plt L1","g":"a","t":"2003-07-01T08:00Z","v":0.87},
      {"s":"Flicker Plt L1","g":"a","t":"2003-07-01T08:20Z","v":1.01},
      {"s":"Flicker Plt L1","g":"a","t":"2003-07-01T08:30Z","v":1.04},
      {"s":"Flicker Plt L1","g":"a","t":"2003-07-01T08:40Z","v":1.08},
      {"s":"Flicker Plt L1","g":"a","t":"2003-07-01T08:50Z","v":1.11},
      {"s":"Flicker Plt L1","g":"a","t":"2003-07-01T09:00Z","v":1.31},
      {"s":"Flicker Plt L1","g":"a","t":"2003-07-01T09:20Z","v":1.33},
      {"s":"Flicker Plt L1","g":"a","t":"2003-07-01T09:40Z","v":1.40},
      {"s":"Flicker Plt L1","g":"a","t":"2003-07-01T09:50Z","v":1.44},
      {"s":"Flicker Plt L1","g":"a","t":"2003-07-01T10:00Z","v":1.33},
      {"s":"Flicker Plt L1","g":"a","t":"2003-07-01T10:10Z","v":1.36},
      {"s":"Flicker Plt L1","g":"a","t":"2003-07-01T10:20Z","v":1.30},
      {"s":"Flicker Plt L1","g":"a","t":"2003-07-01T10:30Z","v":1.45},
      {"s":"Flicker Plt L1","g":"a","t":"2003-07-01T10:40Z","v":1.44},
      {"s":"Flicker Plt L1","g":"a","t":"2003-07-01T11:00Z","v":1.30},
      {"s":"Flicker Plt L1","g":"a","t":"2003-07-01T11:10Z","v":1.41},
      {"s":"Flicker Plt L1","g":"a","t":"2003-07-01T11:20Z","v":1.42},
      {"s":"Flicker Plt L1","g":"a","t":"2003-07-01T11:30Z","v":1.43},
      {"s":"Flicker Plt L1","g":"a","t":"2003-07-01T11:40Z","v":1.48},
      {"s":"Flicker Plt L1","g":"a","t":"2003-07-01T11:50Z","v":1.45},
      {"s":"Flicker Plt L1","g":"a","t":"2003-07-01T12:00Z","v":1.47},
      {"s":"Flicker Plt L1","g":"a","t":"2003-07-01T12:10Z","v":1.44},
      {"s":"Flicker Plt L1","g":"a","t":"2003-07-01T12:30Z","v":1.39},
      {"s":"Flicker Plt L1","g":"a","t":"2003-07-01T12:40Z","v":1.40},
      {"s":"Flicker Plt L1","g":"a","t":"2003-07-01T12:50Z","v":1.49},
      {"s":"Flicker Plt L1","g":"a","t":"2003-07-01T13:00Z","v":1.49},
      {"s":"Flicker Plt L1","g":"b","t":"2003-07-01T14:10Z","v":1.47},
      {"s":"Flicker Plt L1","g":"b","t":"2003-07-01T14:20Z","v":1.37},
      {"s":"Flicker Plt L1","g":"b","t":"2003-07-01T14:30Z","v":1.385},
      {"s":"Flicker Plt L1","g":"b","t":"2003-07-01T14:50Z","v":1.31},
      {"s":"Flicker Plt L1","g":"b","t":"2003-07-01T15:10Z","v":1.33},
      {"s":"Flicker Plt L1","g":"b","t":"2003-07-01T15:20Z","v":1.45},
      {"s":"Flicker Plt L1","g":"b","t":"2003-07-01T15:30Z","v":1.49},
      {"s":"Flicker Plt L1","g":"b","t":"2003-07-01T15:40Z","v":1.40},
      {"s":"Flicker Plt L1","g":"b","t":"2003-07-01T16:10Z","v":1.43},
      {"s":"Flicker Plt L1","g":"b","t":"2003-07-01T16:20Z","v":1.44},
      {"s":"Flicker Plt L1","g":"b","t":"2003-07-01T16:30Z","v":1.41},
      {"s":"Flicker Plt L1","g":"b","t":"2003-07-01T16:50Z","v":1.43},
      {"s":"Flicker Plt L1","g":"b","t":"2003-07-01T17:10Z","v":1.40},
      {"s":"Flicker Plt L1","g":"b","t":"2003-07-01T17:20Z","v":1.27},
      {"s":"Flicker Plt L1","g":"b","t":"2003-07-01T17:30Z","v":1.26},
      {"s":"Flicker Plt L1","g":"b","t":"2003-07-01T17:40Z","v":1.31},
      {"s":"Flicker Plt L1","g":"b","t":"2003-07-01T17:50Z","v":1.40},
      {"s":"Flicker Plt L1","g":"b","t":"2003-07-01T18:00Z","v":1.29},
      {"s":"Flicker Plt L1","g":"b","t":"2003-07-01T18:10Z","v":1.27},
      {"s":"Flicker Plt L1","g":"b","t":"2003-07-01T18:20Z","v":1.29},
      {"s":"Flicker Plt L1","g":"b","t":"2003-07-01T18:30Z","v":1.32},
      {"s":"Flicker Plt L1","g":"b","t":"2003-07-01T18:40Z","v":1.36},
      {"s":"Flicker Plt L1","g":"b","t":"2003-07-01T18:50Z","v":1.31},
      {"s":"Flicker Plt L1","g":"b","t":"2003-07-01T19:00Z","v":1.30},
      {"s":"Flicker Plt L1","g":"b","t":"2003-07-01T19:40Z","v":1.22},
      {"s":"Flicker Plt L1","g":"b","t":"2003-07-01T19:50Z","v":1.07},
      {"s":"Flicker Plt L1","g":"b","t":"2003-07-01T20:00Z","v":1.05},
      {"s":"Flicker Plt L1","g":"b","t":"2003-07-01T20:10Z","v":1.02},
      {"s":"Flicker Plt L1","g":"b","t":"2003-07-01T20:20Z","v":0.99},
      {"s":"Flicker Plt L1","g":"b","t":"2003-07-01T20:30Z","v":0.88},
      {"s":"Flicker Plt L1","g":"b","t":"2003-07-01T20:40Z","v":0.74},
      {"s":"Flicker Plt L1","g":"b","t":"2003-07-01T20:50Z","v":0.68},
      {"s":"Flicker Plt L1","g":"b","t":"2003-07-01T21:00Z","v":0.65},
      {"s":"Flicker Plt L1","g":"b","t":"2003-07-01T21:10Z","v":0.55},
      {"s":"Flicker Plt L1","g":"b","t":"2003-07-01T21:20Z","v":0.41},
      {"s":"Flicker Plt L1","g":"b","t":"2003-07-01T21:30Z","v":0.355},
      {"s":"Flicker Plt L1","g":"b","t":"2003-07-01T21:40Z","v":0.34},
      {"s":"Flicker Plt L1","g":"b","t":"2003-07-01T22:10Z","v":0.33},
      {"s":"Flicker Plt L1","g":"b","t":"2003-07-01T22:20Z","v":0.31},
      {"s":"Flicker Plt L1","g":"b","t":"2003-07-01T22:40Z","v":0.285},
      {"s":"Flicker Plt L1","g":"b","t":"2003-07-01T23:10Z","v":0.26},
      {"s":"Flicker Plt L1","g":"b","t":"2003-07-01T23:40Z","v":0.24},
      {"s":"Flicker Plt L1","g":"b","t":"2003-07-02T00:00Z","v":0.24}
    ]
  },
  "layer": [
    {
      "data": {"name": "volt"},
      "mark": {"type": "line", "interpolate": "step-after", "strokeWidth": 1.2},
      "encoding": {
        "x": {
          "field": "t", "type": "temporal",
          "scale": {"type": "utc", "domain": [{"year": 2003, "month": 7, "date": 1, "hours": 0, "utc": true}, {"year": 2003, "month": 7, "date": 2, "hours": 0, "utc": true}]},
          "axis": {
            "title": null,
            "values": [
              {"year": 2003, "month": 7, "date": 1, "hours": 0, "utc": true},
              {"year": 2003, "month": 7, "date": 1, "hours": 4, "utc": true},
              {"year": 2003, "month": 7, "date": 1, "hours": 8, "utc": true},
              {"year": 2003, "month": 7, "date": 1, "hours": 12, "utc": true},
              {"year": 2003, "month": 7, "date": 1, "hours": 16, "utc": true},
              {"year": 2003, "month": 7, "date": 1, "hours": 20, "utc": true},
              {"year": 2003, "month": 7, "date": 2, "hours": 0, "utc": true}
            ],
            "labelExpr": "[utcFormat(datum.value, '%H:%M'), slice(utcFormat(datum.value, '%a'), 0, 2) + ', ' + utcFormat(datum.value, '%-d-%-m-%Y')]",
            "labelLineHeight": 18,
            "labelPadding": 6,
            "labelColor": "#000000",
            "labelOverlap": false,
            "labelBound": false,
            "labelFlush": false,
            "ticks": false,
            "grid": true
          }
        },
        "y": {
          "field": "v", "type": "quantitative",
          "scale": {"domain": [170, 242], "nice": false, "zero": false},
          "axis": {
            "orient": "left",
            "values": [170, 177.2, 184.4, 191.6, 198.8, 206, 213.2, 220.4, 227.6, 234.8, 242],
            "format": ".1f",
            "labelColor": "#2a2aff",
            "tickSize": 3,
            "tickColor": "#000000",
            "labelPadding": 1,
            "grid": true,
            "title": "V",
            "titleAngle": 0,
            "titleColor": "#2a2aff",
            "titleFontWeight": "normal",
            "titleFontSize": 13.5,
            "titleAlign": "right",
            "titleBaseline": "middle",
            "titleX": -4,
            "titleY": -18
          }
        },
        "color": {
          "field": "s", "type": "nominal",
          "scale": {
            "domain": ["U mean L1", "Flicker Pst L1", "Flicker Plt L1", "THD U mean L1", "Unbalance"],
            "range": ["#1e1eff", "#ff2020", "#22ee22", "#33ffff", "#9933a0"]
          },
          "legend": {
            "orient": "none",
            "legendX": -13,
            "legendY": -59,
            "columns": 2,
            "columnPadding": 196,
            "rowPadding": 3,
            "title": null,
            "symbolSize": 0,
            "symbolStrokeWidth": 0,
            "symbolOpacity": 0,
            "labelOffset": 1,
            "labelFontSize": 13.5,
            "labelFont": "Liberation Sans",
            "encode": {"labels": {"update": {"fill": {"signal": "scale('color', datum.value)"}}}}
          }
        },
        "detail": {"field": "g"}
      }
    },
    {
      "data": {"name": "flicker"},
      "mark": {"type": "line", "interpolate": "step-after", "strokeWidth": 1.2},
      "encoding": {
        "x": {"field": "t", "type": "temporal"},
        "y": {
          "field": "v", "type": "quantitative",
          "scale": {"domain": [0, 7], "nice": false, "zero": false},
          "axis": {
            "orient": "right",
            "values": [0, 0.7, 1.4, 2.1, 2.8, 3.5, 4.2, 4.9, 5.6, 6.3, 7],
            "format": ".3f",
            "labelColor": "#ff2020",
            "tickSize": 0,
            "labelPadding": 22,
            "grid": false,
            "title": "Pst",
            "titleAngle": 0,
            "titleColor": "#ff2020",
            "titleFontWeight": "normal",
            "titleFontSize": 13.5,
            "titleAlign": "right",
            "titleBaseline": "middle",
            "titleX": 56,
            "titleY": -18
          }
        },
        "color": {"field": "s", "type": "nominal"},
        "detail": {"field": "g"}
      }
    }
  ],
  "resolve": {"scale": {"y": "independent"}}
}
